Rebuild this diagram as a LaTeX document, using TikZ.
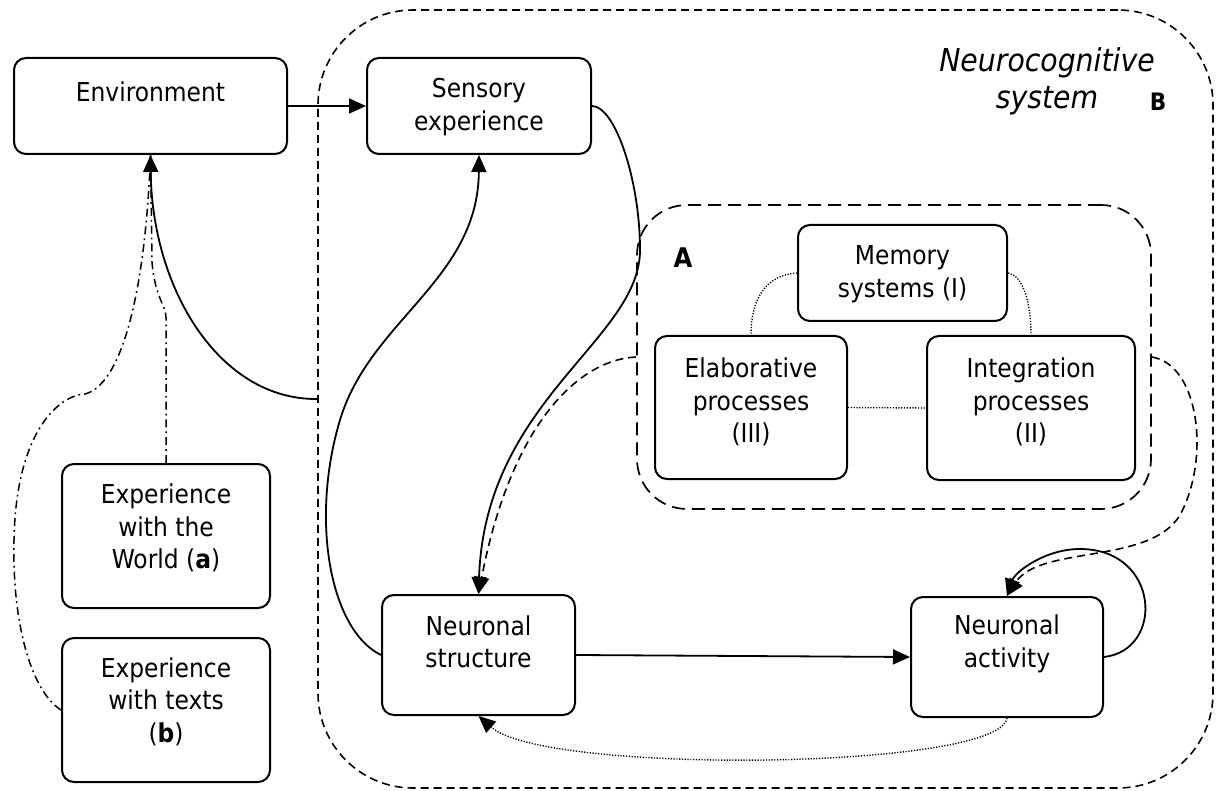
\documentclass[tikz,border=0pt]{standalone}
\usepackage{fontspec}
\setmainfont{DejaVu Sans Condensed}
\usetikzlibrary{arrows.meta}
\begin{document}
\begin{tikzpicture}[x=1pt,y=-1pt,
  box/.style={draw, line width=2pt, rounded corners=12pt, inner sep=0pt},
  txt/.style={align=center, font=\fontsize{26}{32.5}\selectfont, inner sep=0pt},
  conn/.style={line width=1.8pt},
  arr/.style={-{Triangle[length=17pt,width=15pt]}},
  dsh/.style={dash pattern=on 8pt off 5pt, line width=1.6pt},
  dotl/.style={dash pattern=on 1.2pt off 1.6pt, line width=1.4pt},
  dashdot/.style={dash pattern=on 8pt off 4pt on 1.8pt off 4pt, line width=1.5pt},
]
\useasboundingbox (0,0) rectangle (1223,791);
\fill[white] (0,0) rectangle (1223,791);

% outer system B and inner group A
\node[draw, dsh, rounded corners=95pt, minimum width=895pt, minimum height=778pt, inner sep=0pt] (Bsys) at (765.5,399) {};
\node[draw, line width=1.7pt, dash pattern=on 13pt off 7pt, rounded corners=50pt, minimum width=514pt, minimum height=304pt, inner sep=0pt] (A) at (894,357) {};

% boxes
\node[box, minimum width=273pt, minimum height=96pt] (env) at (150.5,106) {};
\node[txt] (envt) at (150.5,92) {Environment};
\node[box, minimum width=224pt, minimum height=96pt] (sens) at (479,106) {};
\node[txt] (senst) at (479,107) {Sensory\\experience};
\node[box, minimum width=209pt, minimum height=96pt] (mem) at (902.5,273) {};
\node[txt] (memt) at (902.5,274) {Memory\\systems (I)};
\node[box, minimum width=192pt, minimum height=143pt] (elab) at (751,407.5) {};
\node[txt] (elabt) at (751,402) {Elaborative\\processes\\(III)};
\node[box, minimum width=208pt, minimum height=144pt] (integ) at (1031,408) {};
\node[txt] (integt) at (1031,402) {Integration\\processes\\(II)};
\node[box, minimum width=193pt, minimum height=120pt] (nstruct) at (478.5,655) {};
\node[txt] (nstructt) at (478.5,642) {Neuronal\\structure};
\node[box, minimum width=192pt, minimum height=120pt] (nact) at (1007,657) {};
\node[txt] (nactt) at (1007,644) {Neuronal\\activity};
\node[box, minimum width=208pt, minimum height=144pt] (world) at (166,536) {};
\node[txt] (worldt) at (166,528) {Experience\\with the\\World (\textbf{a})};
\node[box, minimum width=208pt, minimum height=144pt] (texts) at (166,710) {};
\node[txt] (textst) at (166,701.5) {Experience\\with texts\\(\textbf{b})};

% labels
\node[font=\bfseries\fontsize{27}{27}\selectfont, inner sep=0pt] (Alab) at (683,258) {A};
\node[font=\bfseries\fontsize{24}{24}\selectfont, inner sep=0pt] (Blab) at (1158,102) {B};
\node[font=\itshape\fontsize{31.5}{37}\selectfont, align=center, inner sep=0pt] (ncs) at (1047,81) {Neurocognitive\\system};

% connectors
\draw[conn,arr] (env.east) -- (sens.west);
\draw[conn,arr] (Bsys.west) .. controls (220,400) and (152,290) .. (env.south);
\draw[conn,arr] (sens.east) .. controls (615,106) and (640,180) .. (640,250) .. controls (640,340) and (485,400) .. (nstruct.north);
\draw[conn,arr] (nstruct.west) .. controls (330,630) and (310,520) .. (340,420) .. controls (370,320) and (478,280) .. (sens.south);
\draw[dsh,arr] (A.west) .. controls (575,360) and (510,430) .. (nstruct.north);
\draw[dsh,arr] (A.east) .. controls (1200,365) and (1210,460) .. (1180,515) .. controls (1150,565) and (1040,545) .. (nact.north);
\draw[conn,arr] (nact.east) .. controls (1165,650) and (1160,549) .. (1080,549) .. controls (1045,549) and (1015,572) .. (nact.north);
\draw[conn,arr] (nstruct.east) -- (nact.west);
\draw[dotl,arr] (nact.south) .. controls (1000,770) and (545,775) .. (nstruct.south);
\draw[dotl] (mem.west) .. controls (765,275) and (751,300) .. (elab.north);
\draw[dotl] (mem.east) .. controls (1022,275) and (1031,300) .. (integ.north);
\draw[dotl] (elab.east) -- (integ.west);
\draw[dashdot] (world.north) -- (166,318) .. controls (166,305) and (155,298) .. (152,262) -- (env.south);
\draw[dashdot] (texts.west) .. controls (30,690) and (12,620) .. (14,540) .. controls (16,430) and (60,395) .. (85,394) .. controls (120,385) and (145,300) .. (env.south);
\end{tikzpicture}
\end{document}
